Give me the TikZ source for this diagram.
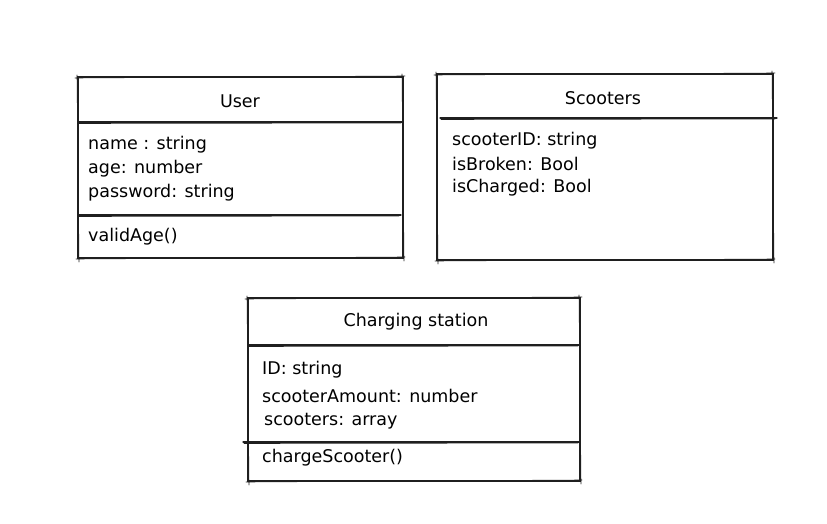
\documentclass[tikz,border=0pt]{standalone}
\usepackage{fontspec}
\setmainfont{DejaVu Sans}
\usetikzlibrary{positioning}

\begin{document}
\begin{tikzpicture}[x=1pt, y=-1pt,
        edge/.style={draw=black!88, line width=1.2pt, line cap=round},
        title/.style={font=\fontsize{17.5}{20}\selectfont, inner sep=0pt},
        member/.style={font=\fontsize{17.5}{20}\selectfont, anchor=west, inner sep=0pt}]
        % page frame
        \useasboundingbox (0,0) rectangle (827,524);

        % a box drawn twice, a little off, like a sketch
        \newcommand{\roughbox}[5]{
            \coordinate (#1-nw) at (#2,#3);
            \coordinate (#1-se) at (#4,#5);
            \draw[edge] (#1-nw) rectangle (#1-se);
            \draw[edge, line width=0.6pt] (#2-3,#3+1) -- (#4+2,#3-1)
                (#4-1,#3-3) -- (#4+1,#5+3)
                (#4+2,#5-1) -- (#2-2,#5+1)
                (#2+1,#5+4) -- (#2-1,#3-2);
        }
        % a compartment line, also drawn twice
        \newcommand{\roughline}[4]{
            \coordinate (#1-w) at (#2,#4);
            \coordinate (#1-e) at (#3,#4);
            \draw[edge] (#1-w) -- (#1-e);
            \draw[edge, line width=0.6pt] (#2+1,#4+1.5) -- (#3-2,#4+1);
        }

        % User
        \roughbox{user}{78}{77}{403}{258}
        \roughline{usera}{78}{403}{122}
        \roughline{userb}{78}{401}{215}
        \node[title] (usertitle) at (240,101) {User};
        \node[member] (username) at (88,145) {name : string};
        \node[member] (userage) at (88,169) {age: number};
        \node[member] (userpass) at (88,193) {password: string};
        \node[member] (uservalid) at (88,237) {validAge()};

        % Scooters
        \roughbox{scoot}{437}{74}{773}{260}
        \roughline{scoota}{440}{777}{118}
        \node[title] (scoottitle) at (603,98) {Scooters};
        \node[member] (scootid) at (452,141) {scooterID: string};
        \node[member] (scootbroken) at (452,164) {isBroken: Bool};
        \node[member] (scootcharged) at (452,188) {isCharged: Bool};

        % Charging station
        \roughbox{charge}{248}{298}{580}{481}
        \roughline{chargea}{248}{580}{345}
        \roughline{chargeb}{243}{580}{442}
        \node[title] (chargetitle) at (416,322) {Charging station};
        \node[member] (chargeid) at (262,370) {ID: string};
        \node[member] (chargeamount) at (262,396) {scooterAmount: number};
        \node[member] (chargescoot) at (264,421) {scooters: array};
        \node[member] (chargemethod) at (262,458) {chargeScooter()};
\end{tikzpicture}
\end{document}
